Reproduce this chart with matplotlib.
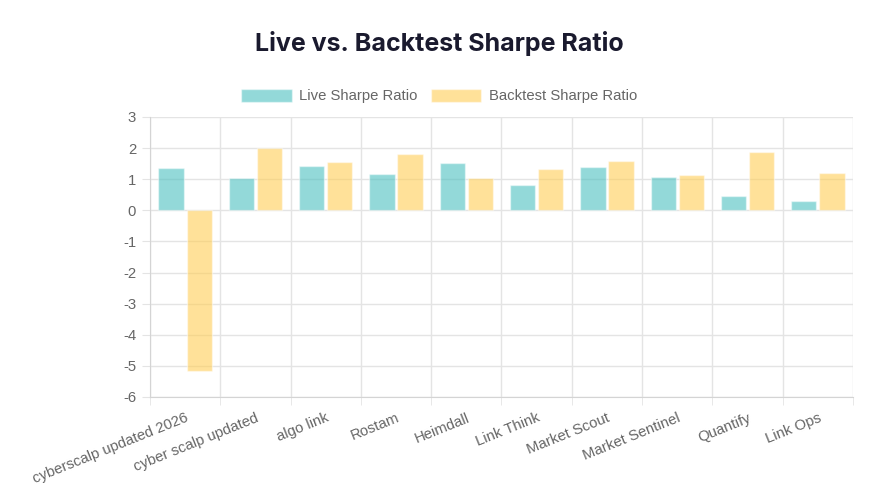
import numpy as np
import matplotlib.pyplot as plt

# data
strategies = ['cyberscalp updated 2026', 'cyber scalp updated', 'algo link', 'Rostam',
              'Heimdall', 'Link Think', 'Market Scout', 'Market Sentinel', 'Quantify', 'Link Ops']
live_sharpe = [1.37, 1.05, 1.41, 1.18, 1.53, 0.82, 1.39, 1.08, 0.46, 0.30]
backtest_sharpe = [-5.18, 1.99, 1.56, 1.80, 1.04, 1.33, 1.57, 1.15, 1.88, 1.21]

plt.rcParams['font.family'] = ['Liberation Sans', 'DejaVu Sans']
plt.rcParams['axes.unicode_minus'] = False

W, H = 887, 492
fig = plt.figure(figsize=(W / 100, H / 100), dpi=100)
ax = fig.add_axes([150 / W, 1 - 397 / H, (853 - 150) / W, (397 - 117) / H])

x = np.arange(len(strategies))
bw = 0.36
live_col = (75 / 255, 192 / 255, 192 / 255, 0.6)
bt_col = (255 / 255, 206 / 255, 86 / 255, 0.6)
ax.bar(x - 0.2, live_sharpe, bw, color=live_col, edgecolor=(1, 1, 1, 0.45), linewidth=1,
       label='Live Sharpe Ratio', zorder=3)
ax.bar(x + 0.2, backtest_sharpe, bw, color=bt_col, edgecolor=(1, 1, 1, 0.45), linewidth=1,
       label='Backtest Sharpe Ratio', zorder=3)

ax.set_xlim(-0.5, len(strategies) - 0.5)
ax.set_ylim(-6, 3)
ax.set_yticks(range(-6, 4))
ax.set_xticks(x)
ax.set_xticklabels(strategies, rotation=22, ha='right', rotation_mode='anchor')
ax.set_xticks(np.arange(len(strategies) + 1) - 0.5, minor=True)

grid_col = '#e4e4e4'
ax.grid(axis='y', color=grid_col, linewidth=1, zorder=0)
ax.grid(axis='x', which='minor', color=grid_col, linewidth=1, zorder=0)
ax.tick_params(axis='x', which='major', length=0, pad=10, labelsize=10.7, labelcolor='#666666')
ax.tick_params(axis='x', which='minor', length=6, color=grid_col)
ax.tick_params(axis='y', length=6, color=grid_col, pad=4, labelsize=10.7, labelcolor='#666666')
for side in ['top', 'right']:
    ax.spines[side].set_visible(False)
for side in ['left', 'bottom']:
    ax.spines[side].set_color('#d4d4d4')

fig.text(439 / W, 1 - 43 / H, 'Live vs. Backtest Sharpe Ratio', ha='center', va='center',
         fontsize=18, fontweight='bold', color='#1a1a2e', family=['Inter', 'DejaVu Sans'])

fig.legend(loc='center', bbox_to_anchor=(439 / W, 1 - 96 / H), ncol=2, frameon=False,
           fontsize=10.7, labelcolor='#666666', handlelength=3.4, handleheight=1.0,
           handletextpad=0.5, columnspacing=0.9)

fig.savefig('out.png', dpi=100, facecolor='white')
